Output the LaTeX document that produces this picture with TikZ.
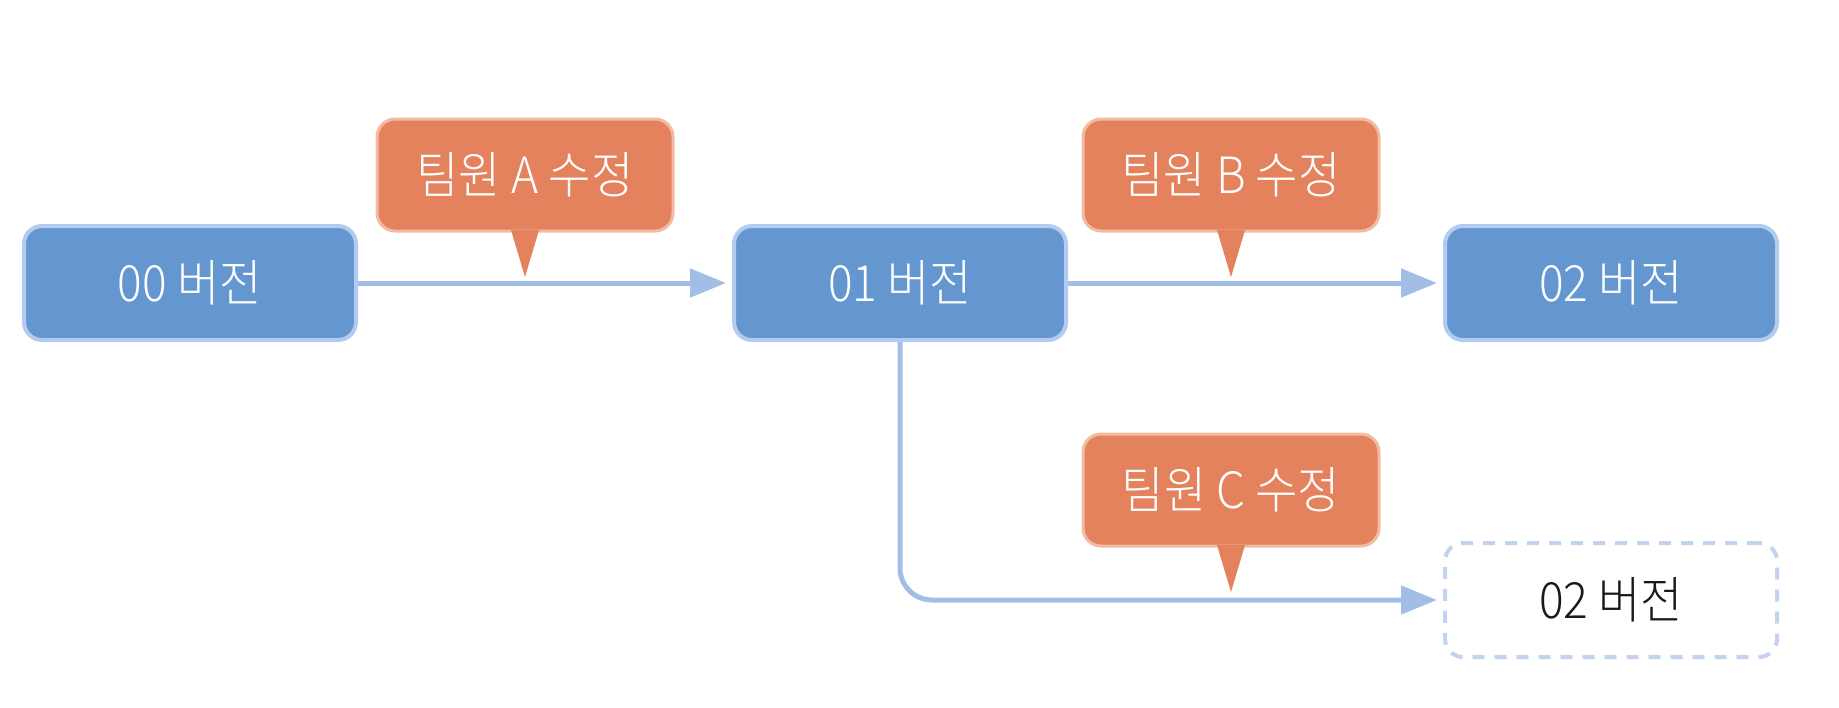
\documentclass[tikz,border=0pt]{standalone}
\usepackage{fontspec}
\setmainfont{Noto Sans CJK KR}[UprightFont={* Light}, FakeStretch=0.92]
\usetikzlibrary{arrows.meta}
\definecolor{boxfill}{HTML}{6497D0}
\definecolor{boxedge}{HTML}{B3CBEE}
\definecolor{callfill}{HTML}{E5825E}
\definecolor{calledge}{HTML}{F3BBA2}
\definecolor{arrowc}{HTML}{A3BEE6}
\definecolor{dashc}{HTML}{C2D3EF}
\tikzset{
  version/.style={rectangle, rounded corners=9pt, minimum width=166pt, minimum height=57pt,
    fill=boxfill, draw=boxedge, line width=2pt, text=white, font=\fontsize{25}{28}\selectfont},
  ghost/.style={version, fill=white, draw=dashc, dash pattern=on 6pt off 5pt, text=black!90},
  callout/.style={rectangle, rounded corners=9pt, minimum width=148pt, minimum height=56pt,
    fill=callfill, draw=calledge, line width=1.5pt, text=white, font=\fontsize{25}{28}\selectfont},
  flow/.style={draw=arrowc, line width=2.5pt, -{Triangle[length=18pt,width=14pt]}, shorten >=3pt},
}
\begin{document}
\begin{tikzpicture}[x=0.5pt,y=-0.5pt]
\useasboundingbox (0,0) rectangle (1839,707);
% version boxes
\node[version] (v00) at (190,283) {00 버전};
\node[version] (v01) at (900,283) {01 버전};
\node[version] (v02) at (1611,283) {02 버전};
\node[ghost] (v02c) at (1611,600) {02 버전};
% connectors
\draw[flow] (v00.east) -- (v01.west);
\draw[flow] (v01.east) -- (v02.west);
\draw[flow, rounded corners=16pt] (v01.south) |- (v02c.west);
% callouts
\node[callout] (cA) at (525,175) {팀원 A 수정};
\node[callout] (cB) at (1231,175) {팀원 B 수정};
\node[callout] (cC) at (1231,490) {팀원 C 수정};
\coordinate (tA) at (525,277);
\coordinate (tB) at (1231,277);
\coordinate (tC) at (1231,592);
\foreach \c/\t in {cA/tA, cB/tB, cC/tC}{
  \fill[callfill] ([xshift=-7pt,yshift=1.2pt]\c.south) -- (\t) -- ([xshift=7pt,yshift=1.2pt]\c.south) -- cycle;
}
\end{tikzpicture}
\end{document}
